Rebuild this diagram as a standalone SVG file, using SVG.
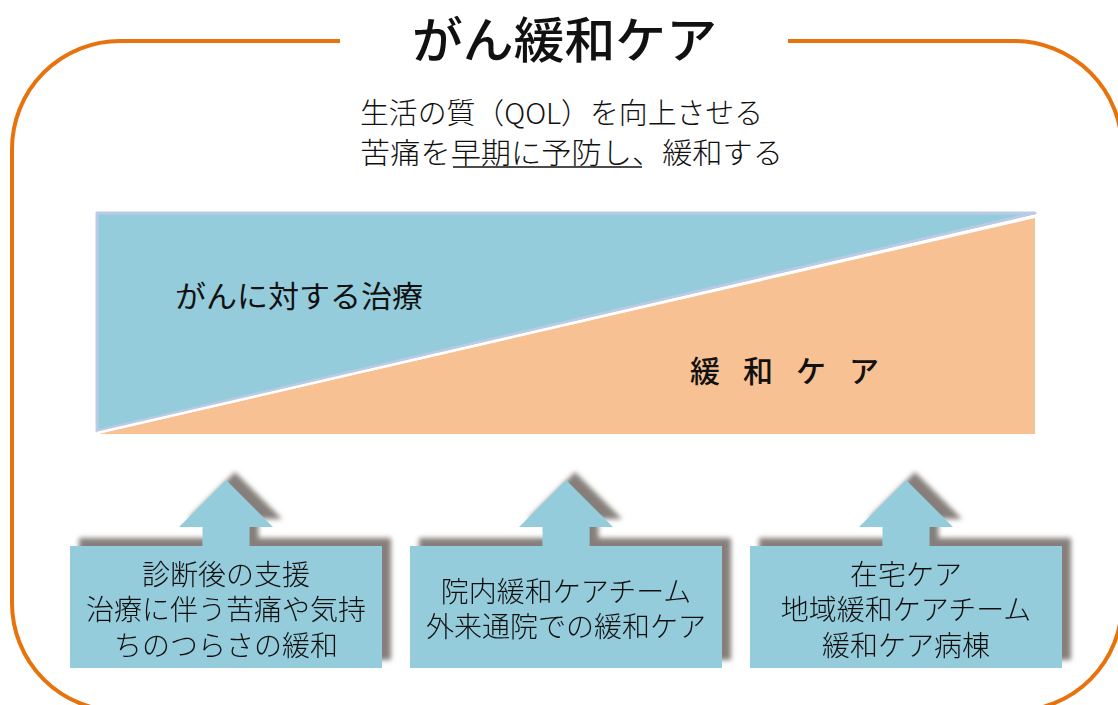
<svg xmlns="http://www.w3.org/2000/svg" width="1118" height="705" viewBox="0 0 1118 705">
<style>
.jp{font-family:"Noto Sans CJK JP","Noto Sans",sans-serif;fill:#111;}
.title{font-size:49px;font-weight:500;}
.sub{font-size:29px;font-weight:300;}
.lbl{font-size:30px;}
.box-text{font-size:28px;font-weight:300;text-anchor:middle;}
.card{fill:#95ccdc;}
</style>
<defs>
<filter id="shadow" x="-10%" y="-20%" width="125%" height="140%">
<feGaussianBlur in="SourceAlpha" stdDeviation="2.5" result="b"/>
<feOffset in="b" dx="9" dy="-8" result="o"/>
<feFlood flood-color="#7f7873" flood-opacity="0.95"/>
<feComposite in2="o" operator="in" result="s"/>
<feMerge><feMergeNode in="s"/><feMergeNode in="SourceGraphic"/></feMerge>
</filter>
</defs>
<rect width="1118" height="705" fill="#ffffff"/>
<g id="frame">
<path d="M340,41 H120 A108,108 0 0 0 12,149 V603 A108,108 0 0 0 120,711 H1014 A108,108 0 0 0 1122,603 V149 A108,108 0 0 0 1014,41 H788" fill="none" stroke="#e8720c" stroke-width="4"/>
</g>
<g id="title">
<text class="jp title" x="412" y="58" textLength="305" lengthAdjust="spacingAndGlyphs">がん緩和ケア</text>
</g>
<g id="subtitle">
<text class="jp sub" x="360" y="124" textLength="403" lengthAdjust="spacingAndGlyphs">生活の質（QOL）を向上させる</text>
<text class="jp sub" x="360" y="164" textLength="423" lengthAdjust="spacingAndGlyphs">苦痛を早期に予防し、緩和する</text>
<line x1="453" y1="167" x2="642" y2="167" stroke="#111" stroke-width="1.5"/>
</g>
<g id="chart">
<polygon points="97,434 1035,218 1035,434" fill="#f7c193"/>
<polygon points="97,213 1035,213 97,431" fill="#95ccdc" stroke="#bccbe4" stroke-width="3" stroke-linejoin="round"/>
<line x1="97" y1="433" x2="1035" y2="216" stroke="#ffffff" stroke-width="2.5"/>
<text class="jp lbl" x="175" y="307" textLength="248" lengthAdjust="spacingAndGlyphs">がんに対する治療</text>
<text class="jp lbl" x="690" y="382" letter-spacing="23" font-weight="500">緩和ケア</text>
</g>
<g id="node-diagnosis" filter="url(#shadow)">
<path class="card" d="M70,546 H202.5 V527 H179 L226,480 L273,527 H249.5 V546 H382 V668 H70 Z"/>
<text class="jp box-text" x="226" y="585">診断後の支援</text>
<text class="jp box-text" x="226" y="620">治療に伴う苦痛や気持</text>
<text class="jp box-text" x="226" y="656">ちのつらさの緩和</text>
</g>
<g id="node-hospital" filter="url(#shadow)">
<path class="card" d="M410,546 H542.5 V527 H519 L566,480 L613,527 H589.5 V546 H722 V668 H410 Z"/>
<text class="jp box-text" x="566" y="602">院内緩和ケアチーム</text>
<text class="jp box-text" x="566" y="637">外来通院での緩和ケア</text>
</g>
<g id="node-home" filter="url(#shadow)">
<path class="card" d="M750,546 H882.5 V527 H859 L906,480 L953,527 H929.5 V546 H1062 V668 H750 Z"/>
<text class="jp box-text" x="906" y="585">在宅ケア</text>
<text class="jp box-text" x="906" y="620">地域緩和ケアチーム</text>
<text class="jp box-text" x="906" y="656">緩和ケア病棟</text>
</g>
<g id="connectors"></g>
</svg>
